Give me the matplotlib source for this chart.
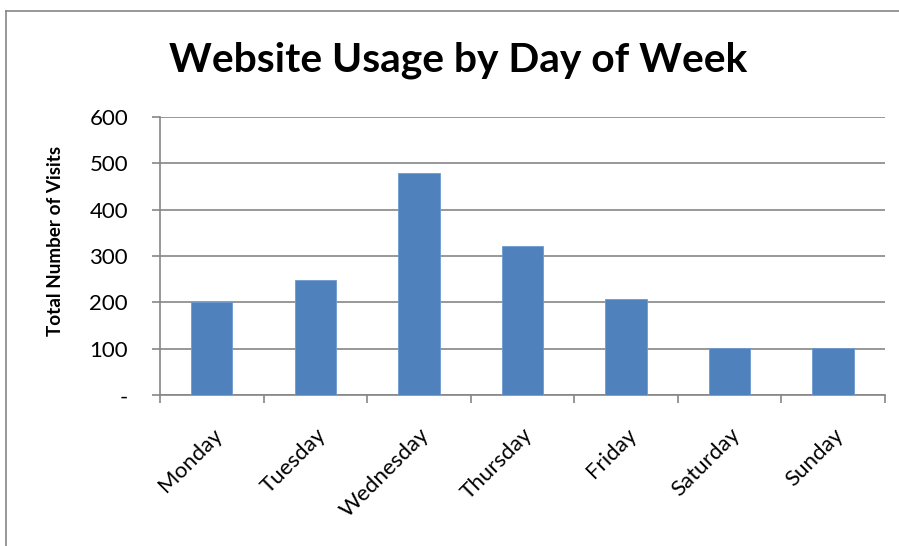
import matplotlib
matplotlib.use("Agg")
import matplotlib.pyplot as plt
from matplotlib.lines import Line2D
from matplotlib.ticker import FixedLocator, NullFormatter

days = ["Monday", "Tuesday", "Wednesday", "Thursday", "Friday", "Saturday", "Sunday"]
visits = [200, 248, 480, 321, 207, 102, 102]
y_ticks = [0, 100, 200, 300, 400, 500, 600]
y_labels = ["-", "100", "200", "300", "400", "500", "600"]

plt.rcParams["font.family"] = ["Lato", "DejaVu Sans"]
grey = "#868686"

fig = plt.figure(figsize=(8.99, 5.46), dpi=100)
ax = fig.add_axes([0.178, 0.276, 0.806, 0.510])

x = list(range(len(days)))
ax.bar(x, visits, width=0.4, color="#4F81BD", edgecolor="#6F9AD0", linewidth=0.6, zorder=3)

ax.set_xlim(-0.5, len(days) - 0.5)
ax.set_ylim(0, 600)
ax.set_yticks(y_ticks)
ax.set_yticklabels(y_labels, fontsize=16)
ax.yaxis.grid(True, color=grey, linewidth=1.2, zorder=0)

# category labels centred on bars, tick marks between categories
ax.set_xticks(x)
ax.set_xticklabels(days, fontsize=16, rotation=45, ha="right", rotation_mode="anchor")
ax.tick_params(axis="x", which="major", length=0, pad=21)
ax.xaxis.set_minor_locator(FixedLocator([i - 0.5 for i in range(len(days) + 1)]))
ax.xaxis.set_minor_formatter(NullFormatter())
ax.tick_params(axis="x", which="minor", length=6, width=1.2, color=grey, direction="out")
ax.tick_params(axis="y", length=6, width=1.2, color=grey, pad=17)

for s in ["top", "right"]:
    ax.spines[s].set_visible(False)
for s in ["left", "bottom"]:
    ax.spines[s].set_color(grey)
    ax.spines[s].set_linewidth(1.2)

fig.text(458 / 899, 1 - 60 / 546, "Website Usage by Day of Week",
         fontsize=29.3, fontweight="bold", ha="center", va="center")
fig.text(56 / 899, 1 - 241 / 546, "Total Number of Visits",
         fontsize=13.6, fontweight="bold", rotation=90, ha="center", va="center")

# chart border
fig.add_artist(Line2D([6 / 899, 6 / 899], [0, 1 - 11 / 546], color=grey, linewidth=1.2))
fig.add_artist(Line2D([6 / 899, 1], [1 - 11 / 546, 1 - 11 / 546], color=grey, linewidth=1.2))

fig.savefig("out.png", dpi=100)
